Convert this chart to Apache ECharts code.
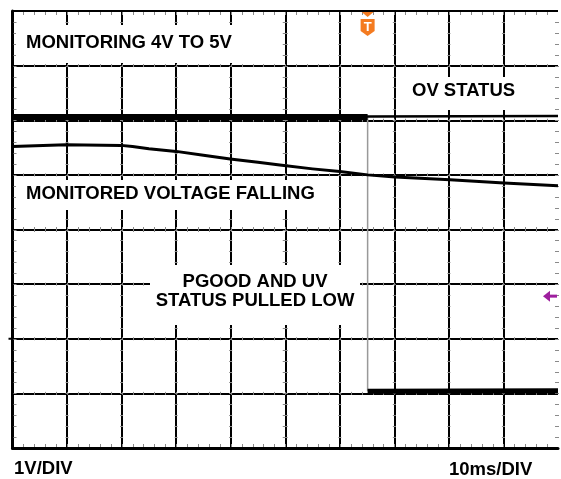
<!DOCTYPE html>
<html><head><meta charset="utf-8">
<script src="https://cdn.jsdelivr.net/npm/echarts@6/dist/echarts.min.js"></script>
<style>html,body{margin:0;padding:0;background:#fff;}#c{width:561px;height:479px;}</style>
</head><body><div id="c"></div>
<script>
// Time axis in ms (10ms/DIV), vertical axis in divisions (8 divisions)
const xMin = 0, xMax = 100, xStep = 10;
const yMin = 0, yMax = 8, yStep = 1;

// Monitored voltage falling (divisions)
const monitoredTime = [0, 9.8, 19.9, 22.0, 25.0, 30.0, 35.0, 39.9, 45.0, 49.0, 55.0, 60.0, 65.1, 70.1, 80.2, 90.1, 100];
const monitoredDiv  = [5.52, 5.55, 5.54, 5.52, 5.48, 5.43, 5.36, 5.29, 5.23, 5.18, 5.11, 5.06, 5.00, 4.96, 4.91, 4.85, 4.80];

// OV status (stays high)
const ovTime = [0, 65.1, 100];
const ovDiv  = [6.06, 6.07, 6.08];

// PGOOD / UV status: high, then pulled low at trigger
const triggerMs = 65.1;
const pgoodHighTime = [0, 65.1];
const pgoodHighDiv  = [6.06, 6.06];
const pgoodLowTime  = [65.1, 100];
const pgoodLowDiv   = [1.04, 1.05];

// Channel marker level (purple arrow) and ground stub
const markerDiv = 2.78;
const stubDiv = 2;

const pairs = (xs, ys) => xs.map((x, i) => [x, ys[i]]);

const chart = echarts.init(document.getElementById('c'), null, {renderer: 'canvas'});

function graticule(params, api) {
  const children = [];
  const st = {stroke: '#8a8a8a', lineWidth: 1};
  for (let i = 0; i <= 10; i++) {
    for (let j = 1; j < 40; j++) {
      const p = api.coord([i * xStep, j * 0.2]);
      let x1 = p[0] - 1.5, x2 = p[0] + 1.5;
      if (i === 0) { x1 = p[0] + 1; x2 = p[0] + 4; }
      if (i === 10) { x1 = p[0] - 3; x2 = p[0] + 1; }
      if (i === 5) { x1 = p[0] - 2.5; x2 = p[0] + 2.5; }
      const y = Math.round(p[1]) + 0.5;
      children.push({type: 'line', shape: {x1, y1: y, x2, y2: y}, style: st});
    }
  }
  for (let k = 0; k <= 8; k++) {
    for (let j = 1; j < 50; j++) {
      const p = api.coord([j * 2, k]);
      let y1 = p[1] - 1.5, y2 = p[1] + 1.5;
      if (k === 8) { y1 = p[1] + 1; y2 = p[1] + 4; }
      if (k === 0) { y1 = p[1] - 4; y2 = p[1] - 1; }
      if (k === 4) { y1 = p[1] - 2.5; y2 = p[1] + 2.5; }
      const x = Math.round(p[0]) + 0.5;
      children.push({type: 'line', shape: {x1: x, y1, x2: x, y2}, style: st});
    }
  }
  return {type: 'group', children};
}

const lineSeries = (name, data, color, width, z) => ({
  name, type: 'line', data, showSymbol: false, symbol: 'none', z,
  lineStyle: {color, width, cap: 'butt', join: 'round'}, animation: false, silent: true
});

const font = 'bold 18.5px "Liberation Sans", Arial, sans-serif';
const txt = (text, x, y, align) => ({
  type: 'text', z: 20, style: {text, x, y, font, fill: '#000', align: align || 'left', verticalAlign: 'middle'}
});
const box = (x, y, w, h) => ({type: 'rect', z: 15, shape: {x, y, width: w, height: h}, style: {fill: '#fff'}});

chart.setOption({
  animation: false,
  backgroundColor: '#fff',
  grid: {left: 12.5, right: 3, top: 11, bottom: 31},
  xAxis: {
    type: 'value', min: xMin, max: xMax, interval: xStep,
    axisLabel: {show: false}, axisTick: {show: false},
    axisLine: {show: true, onZero: false, lineStyle: {color: '#000', width: 3}},
    splitLine: {show: true, showMaxLine: false, lineStyle: {color: '#000', width: 2}}
  },
  yAxis: {
    type: 'value', min: yMin, max: yMax, interval: yStep,
    axisLabel: {show: false}, axisTick: {show: false},
    axisLine: {show: true, onZero: false, lineStyle: {color: '#000', width: 3}},
    splitLine: {show: true, lineStyle: {color: '#000', width: 2}}
  },
  series: [
    {type: 'custom', renderItem: graticule, data: [[0, 0]], z: 2, silent: true, animation: false, clip: false},
    lineSeries('PGOOD high', pairs(pgoodHighTime, pgoodHighDiv), '#000', 6, 30),
    lineSeries('PGOOD edge', [[triggerMs, pgoodHighDiv[1]], [triggerMs, pgoodLowDiv[0]]], '#999', 1.5, 29),
    lineSeries('PGOOD low', pairs(pgoodLowTime, pgoodLowDiv), '#000', 5, 30),
    lineSeries('OV STATUS', pairs(ovTime, ovDiv), '#000', 2.5, 31),
    lineSeries('Monitored voltage', pairs(monitoredTime, monitoredDiv), '#000', 3, 31)
  ]
});

const T = chart.convertToPixel({xAxisIndex: 0, yAxisIndex: 0}, [triggerMs, yMax]);
const M = chart.convertToPixel({xAxisIndex: 0, yAxisIndex: 0}, [xMax, markerDiv]);
const G = chart.convertToPixel({xAxisIndex: 0, yAxisIndex: 0}, [xMin, stubDiv]);
const orange = '#F47B20', purple = '#9E1F9E';

chart.setOption({
  graphic: [
    box(16, 25, 240, 38),
    box(400, 77, 146, 33),
    box(16, 180, 316, 30),
    box(150, 265, 210, 60),
    txt('MONITORING 4V TO 5V', 26, 43),
    txt('OV STATUS', 412, 91),
    txt('MONITORED VOLTAGE FALLING', 26, 194),
    txt('PGOOD AND UV', 255, 282, 'center'),
    txt('STATUS PULLED LOW', 255, 301, 'center'),
    txt('1V/DIV', 14, 469),
    txt('10ms/DIV', 449, 470),
    // trigger marker
    {type: 'polygon', z: 40, shape: {points: [[T[0] - 6, T[1] + 1], [T[0] + 6, T[1] + 1], [T[0], T[1] + 6]]}, style: {fill: orange}},
    {type: 'polygon', z: 40, shape: {points: [[T[0] - 7, T[1] + 8], [T[0] + 7, T[1] + 8], [T[0] + 7, T[1] + 20], [T[0], T[1] + 25], [T[0] - 7, T[1] + 20]]}, style: {fill: orange}},
    {type: 'text', z: 41, style: {text: 'T', x: T[0], y: T[1] + 16, font: 'bold 13px "Liberation Sans", Arial', fill: '#fff', align: 'center', verticalAlign: 'middle'}},
    // purple channel marker arrow
    {type: 'polygon', z: 40, shape: {points: [[M[0] - 15, M[1]], [M[0] - 8, M[1] - 5.5], [M[0] - 8, M[1] + 5.5]]}, style: {fill: purple}},
    {type: 'rect', z: 40, shape: {x: M[0] - 9, y: M[1] - 1.5, width: 8, height: 3}, style: {fill: purple}},
    // ground stub at left
    {type: 'line', z: 40, shape: {x1: G[0] - 4, y1: G[1], x2: G[0], y2: G[1]}, style: {stroke: '#000', lineWidth: 2}}
  ]
});
</script>
</body></html>
